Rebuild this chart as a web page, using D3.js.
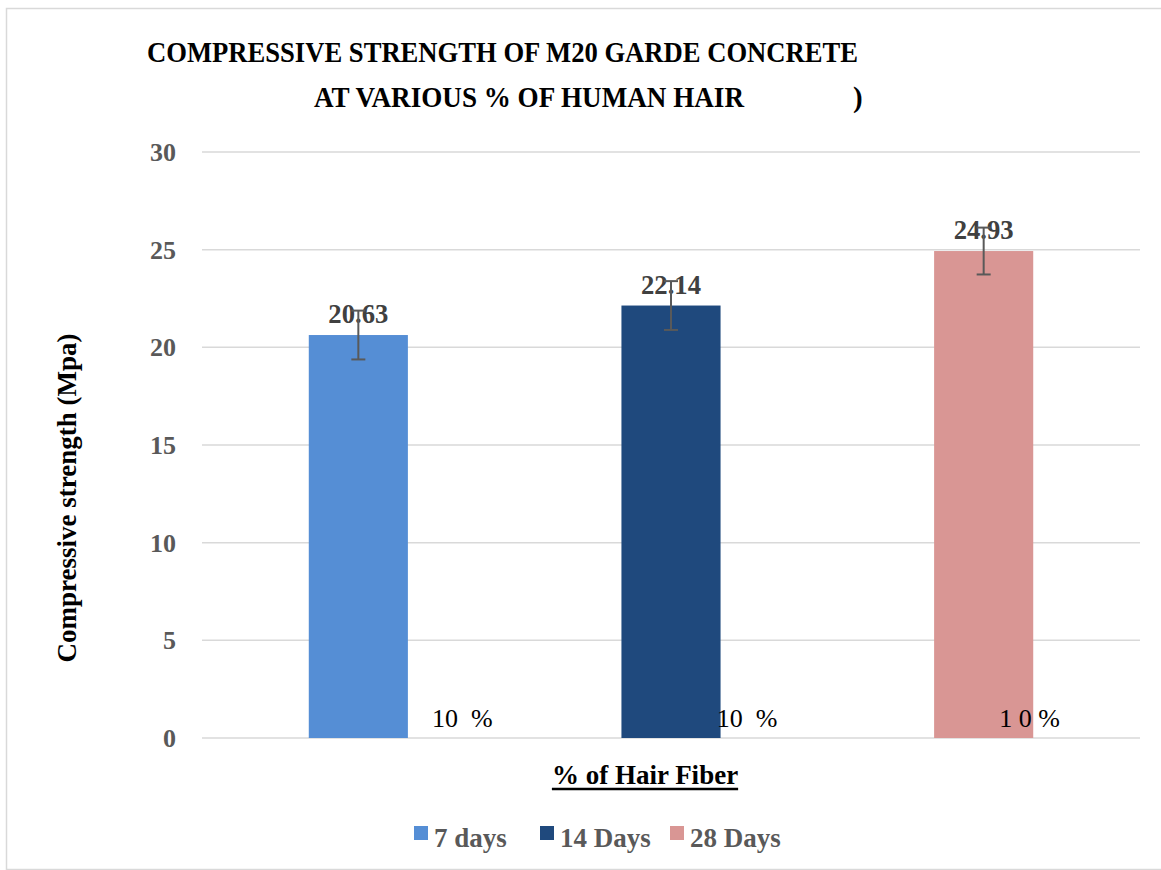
<!DOCTYPE html>
<html>
<head>
<meta charset="utf-8">
<script src="https://cdn.jsdelivr.net/npm/d3@7"></script>
<style>
  html, body { margin: 0; padding: 0; background: #fff; }
  svg { display: block; }
  text { font-family: "Liberation Serif", "Times New Roman", serif; }
</style>
</head>
<body>
<script>
// ---- data ----
const series = ["7 days", "14 Days", "28 Days"];
const values = [20.63, 22.14, 24.93];
const errors = [1.25, 1.25, 1.2];
const categoryLabels = ["10  %", "10  %", "1 0 %"];
const yTicks = [0, 5, 10, 15, 20, 25, 30];
const colors = ["#558ED5", "#1F497D", "#D99694"];
const titleLines = ["COMPRESSIVE STRENGTH OF M20 GARDE CONCRETE", "AT VARIOUS % OF HUMAN HAIR"];
const yTitle = "Compressive strength (Mpa)";
const xTitle = "% of Hair Fiber";

// ---- layout ----
const W = 1161, H = 870;
const plot = { left: 202, right: 1140, top: 152, bottom: 738 };
const labelOffsets = [104, 76, 46]; // offsets of category text from band centre (as in original)

const svg = d3.select("body").append("svg").attr("width", W).attr("height", H);

// frame
svg.append("rect").attr("x", 6.5).attr("y", 8.5).attr("width", W + 10).attr("height", 861)
  .attr("fill", "#fff").attr("stroke", "#D9D9D9").attr("stroke-width", 1.5);

const x = d3.scaleBand().domain(series).range([plot.left, plot.right]).padding(0);
const y = d3.scaleLinear().domain([0, 30]).range([plot.bottom, plot.top]);
const barW = x.bandwidth() * 0.317;

// gridlines
svg.append("g").selectAll("line").data(yTicks).join("line")
  .attr("x1", plot.left).attr("x2", plot.right)
  .attr("y1", d => y(d)).attr("y2", d => y(d))
  .attr("stroke", "#D9D9D9").attr("stroke-width", 1.5);

// y axis tick labels
const yAxis = d3.axisLeft(y).tickValues(yTicks).tickSize(0).tickPadding(0);
const gy = svg.append("g").attr("transform", `translate(176,0)`).call(yAxis);
gy.select(".domain").remove();
gy.selectAll("text")
  .attr("font-family", "Liberation Serif").attr("font-size", 26).attr("font-weight", "bold")
  .attr("fill", "#595959").attr("x", 0).attr("dy", "0.33em").attr("text-anchor", "end");

// bars
svg.append("g").selectAll("rect").data(values).join("rect")
  .attr("x", (d, i) => x(series[i]) + x.bandwidth() / 2 - barW / 2)
  .attr("width", barW)
  .attr("y", d => y(d))
  .attr("height", d => y(0) - y(d))
  .attr("fill", (d, i) => colors[i]);

// data labels
svg.append("g").selectAll("text").data(values).join("text")
  .attr("x", (d, i) => x(series[i]) + x.bandwidth() / 2)
  .attr("y", d => y(d) - 12)
  .attr("text-anchor", "middle")
  .attr("font-size", 27).attr("font-weight", "bold").attr("fill", "#404040")
  .attr("textLength", 60).attr("lengthAdjust", "spacingAndGlyphs")
  .text(d => d.toFixed(2));

// error bars
const eb = svg.append("g").attr("stroke", "#595959").attr("stroke-width", 2);
values.forEach((v, i) => {
  const cx = x(series[i]) + x.bandwidth() / 2;
  const y1 = y(v + errors[i]), y2 = y(v - errors[i]);
  eb.append("line").attr("x1", cx).attr("x2", cx).attr("y1", y1).attr("y2", y2);
  eb.append("line").attr("x1", cx - 7).attr("x2", cx + 7).attr("y1", y1).attr("y2", y1);
  eb.append("line").attr("x1", cx - 7).attr("x2", cx + 7).attr("y1", y2).attr("y2", y2);
});

// category labels
svg.append("g").selectAll("text").data(categoryLabels).join("text")
  .attr("x", (d, i) => x(series[i]) + x.bandwidth() / 2 + labelOffsets[i])
  .attr("y", 727)
  .attr("text-anchor", "middle")
  .attr("font-size", 26).attr("fill", "#000")
  .style("white-space", "pre").attr("xml:space", "preserve")
  .text(d => d);

// title
svg.append("text").attr("x", 147).attr("y", 62)
  .attr("font-size", 29).attr("font-weight", "bold").attr("fill", "#000")
  .attr("textLength", 711).attr("lengthAdjust", "spacingAndGlyphs")
  .text(titleLines[0]);
svg.append("text").attr("x", 314).attr("y", 107)
  .attr("font-size", 29).attr("font-weight", "bold").attr("fill", "#000")
  .attr("textLength", 430).attr("lengthAdjust", "spacingAndGlyphs")
  .text(titleLines[1]);
svg.append("text").attr("x", 853).attr("y", 107)
  .attr("font-size", 29).attr("font-weight", "bold").attr("fill", "#000")
  .text(")");

// y title
svg.append("text")
  .attr("transform", "translate(76,498) rotate(-90)")
  .attr("text-anchor", "middle")
  .attr("font-size", 27).attr("font-weight", "bold").attr("fill", "#000")
  .text(yTitle);

// x title with underline
const xt = svg.append("text").attr("x", 645).attr("y", 784)
  .attr("text-anchor", "middle")
  .attr("font-size", 27).attr("font-weight", "bold").attr("fill", "#000")
  .text(xTitle);
const bb = xt.node().getBBox();
svg.append("line").attr("x1", bb.x).attr("x2", bb.x + bb.width)
  .attr("y1", 789).attr("y2", 789).attr("stroke", "#000").attr("stroke-width", 2.5);

// legend
const legendX = [414, 540, 670];
const lg = svg.append("g");
series.forEach((s, i) => {
  lg.append("rect").attr("x", legendX[i]).attr("y", 826).attr("width", 14).attr("height", 14)
    .attr("fill", colors[i]);
  lg.append("text").attr("x", legendX[i] + 20).attr("y", 847)
    .attr("font-size", 27).attr("font-weight", "bold").attr("fill", "#595959")
    .text(s);
});
</script>
</body>
</html>
